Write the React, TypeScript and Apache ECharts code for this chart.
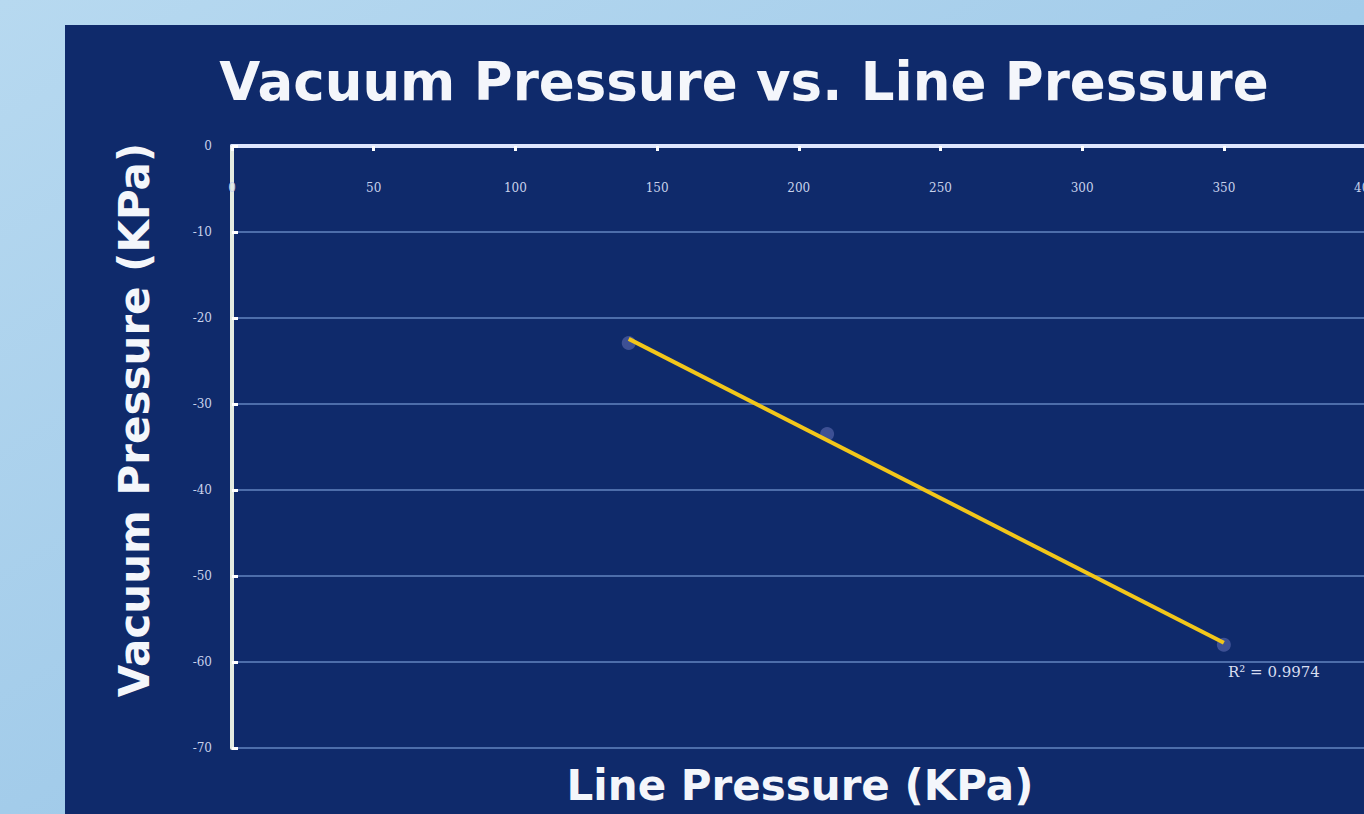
import React, { useEffect, useRef } from "react";
import * as echarts from "echarts";

const linePressure = [140, 210, 350];
const vacuumPressure = [-22.9, -33.5, -58];
const xTicks = [0, 50, 100, 150, 200, 250, 300, 350, 400];
const yTicks = [0, -10, -20, -30, -40, -50, -60, -70];
const rSquaredLabel = "R² = 0.9974";

function regression(xs: number[], ys: number[]) {
  const n = xs.length;
  const mx = xs.reduce((a, b) => a + b, 0) / n;
  const my = ys.reduce((a, b) => a + b, 0) / n;
  let sxy = 0;
  let sxx = 0;
  for (let i = 0; i < n; i++) {
    sxy += (xs[i] - mx) * (ys[i] - my);
    sxx += (xs[i] - mx) * (xs[i] - mx);
  }
  const slope = sxy / sxx;
  return { slope, intercept: my - slope * mx };
}

export default function App() {
  const ref = useRef<HTMLDivElement>(null);
  useEffect(() => {
    document.body.style.margin = "0";
    document.body.style.overflow = "hidden";
    const chart = echarts.init(ref.current!, null, { renderer: "svg" });
    const { slope, intercept } = regression(linePressure, vacuumPressure);
    const x0 = Math.min(...linePressure);
    const x1 = Math.max(...linePressure);
    const trend = [
      [x0, slope * x0 + intercept],
      [x1, slope * x1 + intercept],
    ];
    const serif = "'DejaVu Serif', 'Liberation Serif', serif";
    const sans = "'DejaVu Sans', Verdana, sans-serif";
    chart.setOption({
      animation: false,
      backgroundColor: new echarts.graphic.LinearGradient(0, 0, 1, 1, [
        { offset: 0, color: "#b7d9f0" },
        { offset: 1, color: "#8fbfe4" },
      ]),
      graphic: [
        {
          type: "rect",
          z: -10,
          shape: { x: 65, y: 25, width: 1330, height: 800 },
          style: { fill: "#0f2a6b" },
        },
        {
          type: "text",
          x: 744,
          y: 81,
          style: {
            text: "Vacuum Pressure vs. Line Pressure",
            fill: "#f4f6fb",
            fontFamily: sans,
            fontWeight: "bold",
            fontSize: 53,
            align: "center",
            verticalAlign: "middle",
          },
        },
        {
          type: "text",
          x: 134,
          y: 420,
          rotation: Math.PI / 2,
          style: {
            text: "Vacuum Pressure (KPa)",
            fill: "#f4f6fb",
            fontFamily: sans,
            fontWeight: "bold",
            fontSize: 42,
            align: "center",
            verticalAlign: "middle",
          },
        },
        {
          type: "text",
          x: 800,
          y: 785,
          style: {
            text: "Line Pressure (KPa)",
            fill: "#f4f6fb",
            fontFamily: sans,
            fontWeight: "bold",
            fontSize: 42,
            align: "center",
            verticalAlign: "middle",
          },
        },
        {
          type: "text",
          x: 1228,
          y: 672,
          style: {
            text: rSquaredLabel,
            fill: "#d8def0",
            fontFamily: serif,
            fontSize: 15,
            verticalAlign: "middle",
          },
        },
      ],
      grid: { left: 232, top: 146, right: 11, bottom: 66 },
      xAxis: {
        type: "value",
        position: "top",
        min: 0,
        max: 400,
        interval: 50,
        axisLine: { show: true, lineStyle: { color: "#dfe7ff", width: 4 } },
        axisTick: { show: true, inside: true, length: 5, lineStyle: { color: "#ffffff", width: 3 } },
        axisLabel: {
          inside: true,
          margin: 36,
          color: "#c8d2ec",
          fontFamily: serif,
          fontSize: 12,
          formatter: (v: number) => (xTicks.includes(v) ? String(v) : ""),
        },
        splitLine: { show: false },
      },
      yAxis: {
        type: "value",
        min: -70,
        max: 0,
        interval: 10,
        axisLine: { show: true, lineStyle: { color: "#e4ebe0", width: 4 } },
        axisTick: { show: true, inside: true, length: 6, lineStyle: { color: "#ffffff", width: 3 } },
        axisLabel: {
          margin: 20,
          color: "#c8d2ec",
          fontFamily: serif,
          fontSize: 12,
          formatter: (v: number) => (yTicks.includes(v) ? String(v) : ""),
        },
        splitLine: { show: true, lineStyle: { color: "#4d6daa", width: 2 } },
      },
      series: [
        {
          type: "line",
          data: trend,
          symbol: "none",
          lineStyle: { color: "#f2c61a", width: 4 },
          z: 3,
        },
        {
          type: "scatter",
          data: linePressure.map((x, i) => [x, vacuumPressure[i]]),
          symbolSize: 14,
          itemStyle: { color: "rgba(120,130,200,0.55)" },
          z: 2,
        },
      ],
    });
    return () => chart.dispose();
  }, []);
  return (
    <div
      ref={ref}
      style={{ position: "fixed", left: 0, top: 0, width: 1380, height: 814 }}
    />
  );
}
